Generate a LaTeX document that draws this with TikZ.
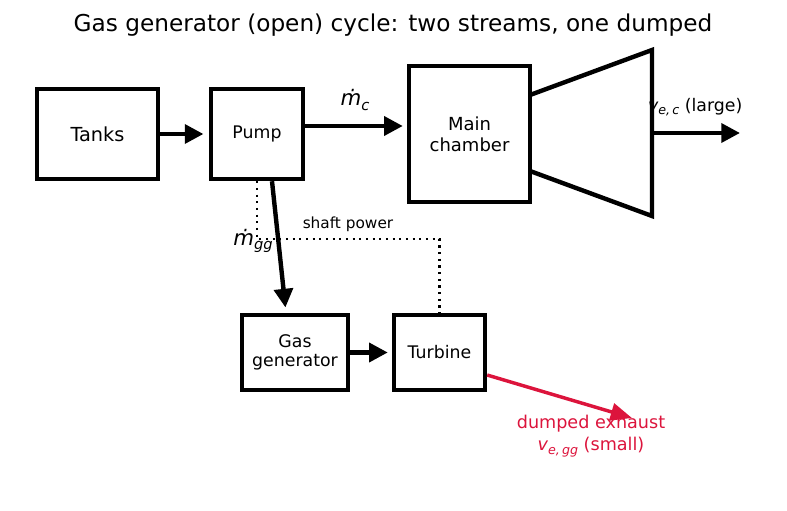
\documentclass[tikz,border=0pt]{standalone}
\usepackage{fontspec}
\setmainfont{DejaVu Sans}
\usetikzlibrary{arrows.meta}
\definecolor{exhaust}{RGB}{220,20,60}
\newcommand{\lowsub}[2]{\raisebox{-0.35ex}{\fontsize{#1}{#1}\selectfont #2}}
\tikzset{
  block/.style={draw=black,line width=3.3pt,fill=white,align=center,inner sep=0pt,
    font=\fontsize{13}{14.5}\selectfont},
  flow/.style={line width=3.3pt,-{Triangle[length=14pt,width=14pt]}},
  shaft/.style={line width=1.7pt,dash pattern=on 1.7pt off 3.3pt},
  dump/.style={draw=exhaust,line width=2.6pt,-{Triangle[length=16pt,width=13pt]}},
}
\begin{document}
\begin{tikzpicture}[x=0.75pt,y=-0.75pt]
\useasboundingbox (0,0) rectangle (787,510);
\node[font=\fontsize{17.4}{20}\selectfont] (title) at (393,25) {Gas generator (open) cycle: two streams, one dumped};
% blocks
\node[block,minimum width=90.75pt,minimum height=67.5pt,font=\fontsize{14.5}{16}\selectfont] (tanks) at (97.5,134) {Tanks};
\node[block,minimum width=69pt,minimum height=67.5pt] (pump) at (257,134) {Pump};
\node[block,minimum width=90.75pt,minimum height=102pt,font=\fontsize{13.5}{15.75}\selectfont] (main) at (469.5,134) {Main\\chamber};
\node[block,minimum width=79.5pt,minimum height=56.25pt] (gg) at (295,352.5) {Gas\\generator};
\node[block,minimum width=68.25pt,minimum height=56.25pt] (turbine) at (439.5,352.5) {Turbine};
% nozzle
\draw[line width=3.3pt,line join=miter] (530,95) -- (652,50) -- (652,216) -- (530,171);
\coordinate (exit) at (652,133);
\coordinate (jet) at (740,133);
\coordinate (bend) at (257,239);
\coordinate (dumpend) at (632,418);
% flows
\draw[flow,shorten >=4pt] (tanks) -- (pump);
\draw[flow,shorten >=3pt] ([yshift=6pt]pump.east) -- ([yshift=6pt]main.west);
\node[font=\fontsize{16}{18}\selectfont\itshape] (mc) at (355,100) {ṁ\lowsub{11}{c}};
\draw[flow] (exit) -- (jet);
\node[font=\fontsize{13}{15}\selectfont,anchor=east] (vec) at (747,107) {{\itshape v\lowsub{9.5}{e,\,c}} (large)};
\draw[shaft] (pump.south) -- (bend) -| (turbine.north);
\node[font=\fontsize{11.5}{13}\selectfont] (shaftlbl) at (348,224) {shaft power};
\draw[flow,shorten >=4pt] ([xshift=11.25pt]pump.south) -- ([xshift=-6.75pt]gg.north);
\node[font=\fontsize{16}{18}\selectfont\itshape] (mgg) at (253,241) {ṁ\lowsub{11}{gg}};
\draw[flow,shorten >=3pt] (gg) -- (turbine);
\draw[dump] ([yshift=-16.9pt]turbine.east) -- (dumpend);
\node[text=exhaust,align=center,font=\fontsize{13.2}{16.5}\selectfont] (dumplbl) at (591,436) {dumped exhaust\\{\itshape v\lowsub{9.5}{e,\,gg}} (small)};
\end{tikzpicture}
\end{document}
